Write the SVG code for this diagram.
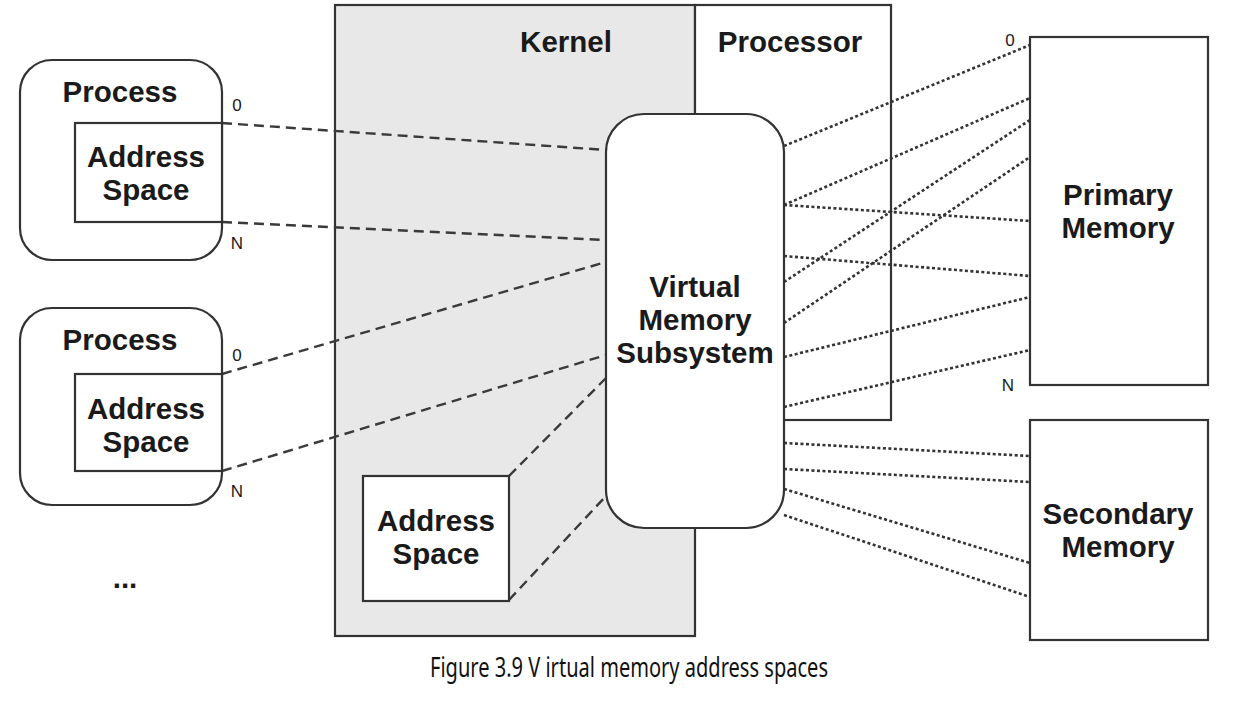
<svg xmlns="http://www.w3.org/2000/svg" width="1233" height="711" viewBox="0 0 1233 711">
<style>
.box{fill:#fff;stroke:#333;stroke-width:2.2}
.t{font-family:"Liberation Sans",Arial,sans-serif;font-weight:bold;font-size:29.5px;fill:#1a1a1a;text-anchor:middle}
.s{font-family:"Liberation Sans",Arial,sans-serif;font-size:17px;fill:#1a1a1a;text-anchor:middle}
.dash{fill:none;stroke:#3a3a3a;stroke-width:2.4;stroke-dasharray:10 6}
.dot{fill:none;stroke:#333;stroke-width:2.6;stroke-dasharray:3 2.5}
.cap{font-family:"Noto Sans","Open Sans",sans-serif;font-size:27px;fill:#111}
</style>
<rect width="1233" height="711" fill="#fff"/>
<g id="kernel">
<rect x="335" y="5" width="360" height="631" fill="#e8e8e8" stroke="#333" stroke-width="2.2"/>
<text class="t" x="566" y="52">Kernel</text>
</g>
<g id="processor">
<rect class="box" x="695" y="5" width="196" height="415"/>
<text class="t" x="790" y="52">Processor</text>
</g>
<g id="connectors">
<line class="dash" x1="222" y1="123" x2="606" y2="150"/>
<line class="dash" x1="222" y1="222" x2="606" y2="240"/>
<line class="dash" x1="222" y1="374" x2="606" y2="262"/>
<line class="dash" x1="222" y1="471" x2="606" y2="355"/>
<line class="dash" x1="509" y1="476" x2="606" y2="378"/>
<line class="dash" x1="509" y1="600" x2="606" y2="496"/>
<line class="dot" x1="784" y1="146" x2="1030" y2="45"/>
<line class="dot" x1="784" y1="205" x2="1030" y2="98"/>
<line class="dot" x1="784" y1="205" x2="1030" y2="221"/>
<line class="dot" x1="784" y1="256" x2="1030" y2="276"/>
<line class="dot" x1="784" y1="282" x2="1030" y2="120"/>
<line class="dot" x1="784" y1="323" x2="1030" y2="157"/>
<line class="dot" x1="784" y1="357" x2="1030" y2="297"/>
<line class="dot" x1="784" y1="407" x2="1030" y2="350"/>
<line class="dot" x1="784" y1="443" x2="1030" y2="456"/>
<line class="dot" x1="784" y1="469" x2="1030" y2="482"/>
<line class="dot" x1="784" y1="489" x2="1030" y2="563"/>
<line class="dot" x1="784" y1="515" x2="1030" y2="597"/>
</g>
<g id="process1">
<rect class="box" x="20" y="60" width="202" height="200" rx="32"/>
<text class="t" x="120" y="102">Process</text>
<rect class="box" x="75" y="123" width="147" height="99"/>
<text class="t" x="146" y="167">Address</text>
<text class="t" x="146" y="200">Space</text>
<text class="s" x="237" y="111">0</text>
<text class="s" x="237" y="249">N</text>
</g>
<g id="process2">
<rect class="box" x="20" y="308" width="202" height="197" rx="32"/>
<text class="t" x="120" y="350">Process</text>
<rect class="box" x="75" y="374" width="147" height="97"/>
<text class="t" x="146" y="419">Address</text>
<text class="t" x="146" y="452">Space</text>
<text class="s" x="237" y="361">0</text>
<text class="s" x="237" y="497">N</text>
</g>
<g id="ellipsis">
<text class="t" x="125" y="588">...</text>
</g>
<g id="kernel-address-space">
<rect class="box" x="363" y="476" width="146" height="125"/>
<text class="t" x="436" y="531">Address</text>
<text class="t" x="436" y="564">Space</text>
</g>
<g id="vms">
<rect class="box" x="606" y="114" width="178" height="414" rx="38"/>
<text class="t" x="695" y="297">Virtual</text>
<text class="t" x="695" y="330">Memory</text>
<text class="t" x="695" y="363">Subsystem</text>
</g>
<g id="primary-memory">
<rect class="box" x="1030" y="37" width="178" height="348"/>
<text class="t" x="1118" y="205">Primary</text>
<text class="t" x="1118" y="238">Memory</text>
<text class="s" x="1010" y="46">0</text>
<text class="s" x="1008" y="391">N</text>
</g>
<g id="secondary-memory">
<rect class="box" x="1030" y="420" width="178" height="220"/>
<text class="t" x="1118" y="524">Secondary</text>
<text class="t" x="1118" y="557">Memory</text>
</g>
<text class="cap" x="430" y="677" textLength="398" lengthAdjust="spacingAndGlyphs">Figure 3.9 V irtual memory address spaces</text>
</svg>
